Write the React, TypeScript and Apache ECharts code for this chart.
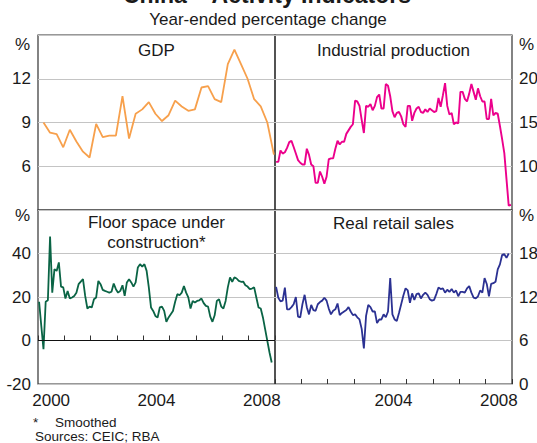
import React, { useEffect, useRef } from "react";
import * as echarts from "echarts";

// ---- Data ----
// GDP, quarterly, Mar-2000 .. Dec-2008 (year-ended % change)
const gdp = [9.0, 8.3, 8.2, 7.3, 8.5, 7.7, 7.0, 6.6, 8.9, 8.0, 8.1, 8.1, 10.8, 7.9, 9.6, 9.9, 10.4, 9.6, 9.1, 9.5, 10.5, 10.1, 9.8, 9.9, 11.4, 11.5, 10.6, 10.4, 13.0, 14.0, 13.0, 12.0, 10.6, 10.1, 9.0, 6.8];

// Industrial production, monthly, Jan-2000 .. Dec-2008
const industrial = [
  10.5, 10.5, 11.8, 11.45, 11.6, 12.1, 12.75, 12.9, 12.2, 11.45, 10.7, 10.4,
  10.2, 10.2, 12.0, 11.3, 10.2, 10.0, 8.1, 8.1, 9.4, 8.8, 8.0, 8.8,
  10.8, 10.9, 10.9, 12.0, 12.9, 12.5, 12.8, 12.8, 13.7, 14.1, 14.5, 14.8,
  17.5, 17.4, 16.9, 15.3, 13.8, 16.9, 16.8, 17.1, 16.4, 16.9, 17.9, 18.2,
  16.6, 16.6, 19.4, 19.2, 18.0, 16.3, 15.6, 16.1, 16.2, 15.7, 14.8, 14.5,
  16.9, 16.9, 15.2, 16.1, 16.6, 16.8, 16.2, 16.1, 16.5, 16.2, 16.6, 16.4,
  16.2, 16.3, 17.8, 16.8, 18.1, 19.5, 16.9, 15.9, 16.1, 14.8, 15.0, 14.9,
  18.5, 18.5, 17.7, 17.4, 18.3, 19.4, 18.5, 17.6, 18.9, 18.0, 17.4, 17.4,
  15.4, 15.4, 17.7, 15.8, 16.1, 16.0, 14.6, 13.1, 11.5, 8.5, 5.5, 5.6,
];

// Floor space under construction (smoothed), monthly, Jan-2000 .. Nov-2008
const floorSpace = [
  17.8, 6.7, -4.0, 17.8, 18.5, 47.8, 22, 32.8, 32, 35.9, 24.8, 24.4,
  19.3, 22.8, 19.3, 19.8, 20.5, 22, 25.9, 27.1, 28.2, 20.5, 14.7, 15.6,
  15.2, 19, 19.8, 27.4, 25.9, 23.3, 22.8, 22.4, 22, 22.4, 26.2, 23.6,
  22, 22.8, 25.4, 20.5, 26.7, 28.2, 26.7, 24.8, 26.7, 33.6, 35.1, 34,
  35.1, 32, 24.4, 15.2, 13.6, 11.3, 10.6, 15.2, 15.6, 13.6, 8.6, 10.6,
  12.1, 13.6, 17.8, 21.3, 20.8, 22, 25.1, 22, 19.8, 14.7, 18.2, 17.5,
  18.2, 18.5, 19.3, 17.2, 15.9, 15.6, 11, 8.6, 11.6, 18.2, 19, 15.6,
  14.7, 18.2, 24.4, 29, 27, 29, 28.5, 27.4, 27, 27.1, 25.4, 24.8,
  23.6, 23.9, 24.4, 19.8, 15.2, 14.7, 10.6, 5.2, -0.2, -5.5, -10.1,
];

// Real retail sales, monthly, Jan-2000 .. Nov-2008
const retail = [
  13.4, 11.9, 11.4, 11.5, 13.3, 10.3, 10.3, 10.6, 11, 12, 9.3, 9.2,
  11, 12.3, 10.6, 9.6, 10.9, 10.2, 10.1, 11, 11.3, 11.5, 11.9, 11.5,
  10.4, 9.6, 10.1, 10.3, 11.1, 9.5, 9.8, 10, 10.2, 10.6, 10, 9.5,
  9.6, 9.2, 8.9, 7.6, 4.9, 9.4, 10.9, 10.6, 10, 10, 8.4, 8.9,
  8.9, 9.6, 9.2, 10, 14.6, 9.6, 8.9, 8.7, 9.8, 11, 12.2, 13.2,
  12.9, 11.2, 12.5, 11.6, 12.4, 12.5, 11.8, 12.3, 12.6, 12.3, 11.7, 11.5,
  11.6, 12.4, 13.3, 13.1, 13.2, 12.6, 13, 12.7, 13.1, 12.6, 12.9, 12.1,
  12.7, 12.7, 12.6, 13.2, 13.5, 12.6, 11.9, 11.8, 12.1, 12.9, 12.6, 14.6,
  13.8, 12.1, 13.8, 13.9, 14.1, 15.8, 16.5, 17.8, 17.9, 17.4, 18.0,
];

const startYear = 2000;
const endYear = 2009;
const yearLabelsLeft = [2000, 2004, 2008];
const yearLabelsRight = [2004, 2008];

const ticksTopLeft = { min: 3, max: 15, interval: 3 };
const ticksTopRight = { min: 5, max: 25, interval: 5 };
const ticksBottomLeft = { min: -20, max: 60, interval: 20 };
const ticksBottomRight = { min: 0, max: 24, interval: 6 };

const FONT = "'Liberation Sans', Arial, Helvetica, sans-serif";
const TXT = "#1a1a1a";

const monthly = (arr: number[]) => arr.map((v, i) => [startYear + (i + 0.5) / 12, v]);
const quarterly = (arr: number[]) => arr.map((v, i) => [startYear + (i * 3 + 2.5) / 12, v]);

export default function App() {
  const ref = useRef<HTMLDivElement>(null);
  useEffect(() => {
    if (!ref.current) return;
    const chart = echarts.init(ref.current, undefined, { renderer: "svg" });

    const L = 38, M = 275, R = 512, T = 35, MID = 210, B = 384;
    const gridBase = { show: true, borderColor: "#333", borderWidth: 1.2, containLabel: false, outerBoundsMode: "none" };
    const grids = [
      { ...gridBase, left: L, top: T, width: M - L, height: MID - T },
      { ...gridBase, left: M, top: T, width: R - M, height: MID - T },
      { ...gridBase, left: L, top: MID, width: M - L, height: B - MID },
      { ...gridBase, left: M, top: MID, width: R - M, height: B - MID },
    ];

    const tickAxis = (gridIndex: number, showTicks: boolean) => ({
      type: "value",
      gridIndex,
      position: "bottom",
      min: startYear,
      max: endYear,
      interval: 1,
      axisLine: { show: false },
      axisTick: { show: showTicks, inside: true, length: 5, lineStyle: { color: "#333", width: 1 } },
      axisLabel: { show: false },
      splitLine: { show: false },
    });
    const labelAxis = (gridIndex: number, years: number[]) => ({
      type: "value",
      gridIndex,
      position: "bottom",
      min: startYear,
      max: endYear,
      interval: 0.5,
      axisLine: { show: false },
      axisTick: { show: false },
      splitLine: { show: false },
      axisLabel: {
        show: true,
        margin: 8,
        fontSize: 17,
        fontFamily: FONT,
        color: TXT,
        hideOverlap: false,
        showMinLabel: true,
        showMaxLabel: true,
        formatter: (v: number) => {
          const y = Math.floor(v);
          return v - y === 0.5 && years.includes(y) ? String(y) : "";
        },
      },
    });

    const yAx = (gridIndex: number, position: string, t: { min: number; max: number; interval: number }, hide: number[]) => ({
      type: "value",
      gridIndex,
      position,
      min: t.min,
      max: t.max,
      interval: t.interval,
      axisLine: { show: false },
      axisTick: { show: false },
      splitLine: { show: true, lineStyle: { color: "#c4c4c4", width: 1 } },
      axisLabel: {
        margin: 7,
        fontSize: 17,
        fontFamily: FONT,
        color: TXT,
        showMinLabel: true,
        showMaxLabel: true,
        formatter: (v: number) => (hide.includes(v) ? "" : String(v)),
      },
    });

    const txt = (text: string, x: number, y: number, opts: any = {}) => ({
      type: "text",
      x,
      y,
      silent: true,
      style: {
        text,
        fill: TXT,
        font: `${opts.weight || "normal"} ${opts.size || 17}px ${FONT}`,
        textAlign: opts.align || "center",
        textVerticalAlign: opts.valign || "middle",
        lineHeight: opts.lineHeight,
      },
    });

    const line = (name: string, data: number[][], idx: number, color: string, width: number, extra: any = {}) => ({
      type: "line",
      name,
      data,
      xAxisIndex: idx,
      yAxisIndex: idx,
      showSymbol: false,
      symbol: "none",
      lineStyle: { color, width },
      silent: true,
      z: 3,
      ...extra,
    });

    const option: any = {
      animation: false,
      backgroundColor: "#fff",
      grid: grids,
      xAxis: [
        tickAxis(0, false),
        tickAxis(1, false),
        tickAxis(2, true),
        tickAxis(3, true),
        labelAxis(2, yearLabelsLeft),
        labelAxis(3, yearLabelsRight),
      ],
      yAxis: [
        yAx(0, "left", ticksTopLeft, [ticksTopLeft.min, ticksTopLeft.max]),
        yAx(1, "right", ticksTopRight, [ticksTopRight.min, ticksTopRight.max]),
        yAx(2, "left", ticksBottomLeft, [ticksBottomLeft.max]),
        yAx(3, "right", ticksBottomRight, [ticksBottomRight.max]),
      ],
      series: [
        line("GDP", quarterly(gdp), 0, "#f7a04c", 1.8),
        line("Industrial production", monthly(industrial), 1, "#ec008c", 1.9),
        line("Floor space under construction", monthly(floorSpace), 2, "#0a6445", 1.8, {
          markLine: {
            silent: true,
            symbol: "none",
            label: { show: false },
            lineStyle: { color: "#111", type: "solid", width: 1 },
            data: [{ yAxis: 0 }],
          },
        }),
        line("Real retail sales", monthly(retail), 3, "#2b3192", 1.8),
      ],
      graphic: [
        txt("China – Activity Indicators", 267, 6, { size: 23, weight: "bold", valign: "bottom" }),
        txt("Year-ended percentage change", 268, 19.5),
        txt("GDP", (L + M) / 2, 50),
        txt("Industrial production", (M + R) / 2, 50),
        txt("Floor space under\nconstruction*", (L + M) / 2, 232, { lineHeight: 20 }),
        txt("Real retail sales", (M + R) / 2, 223),
        txt("%", 22.5, 44),
        txt("%", 22.5, 215),
        txt("%", 526.5, 44),
        txt("%", 526.5, 215),
        txt("*", 33, 422.5, { size: 13.5, align: "left", lineHeight: 13 }),
        txt("Smoothed", 55, 422.5, { size: 13.5, align: "left", lineHeight: 13 }),
        txt("Sources: CEIC; RBA", 35, 436.5, { size: 13.5, align: "left", lineHeight: 13 }),
      ],
    };

    chart.setOption(option);
    return () => chart.dispose();
  }, []);

  return <div ref={ref} style={{ position: "absolute", left: 0, top: 0, width: 537, height: 443 }} />;
}
